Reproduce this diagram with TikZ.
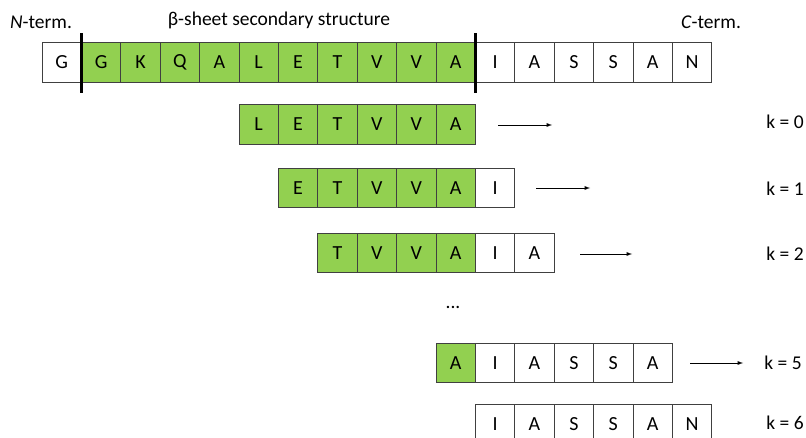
\documentclass[tikz,border=0pt]{standalone}
\usepackage{fontspec}
\setmainfont{Carlito}
\usepackage{tikz}
\definecolor{sheetgreen}{HTML}{92D050}
\definecolor{cellline}{HTML}{404040}

\begin{document}
\begin{tikzpicture}[x=1pt,y=-1pt]
  \tikzstyle{residue}=[rectangle,draw=cellline,line width=0.8pt,minimum width=39.4pt,minimum height=39.5pt,inner sep=0pt,font=\fontsize{20}{22}\selectfont]
  \tikzstyle{label}=[inner sep=0pt,font=\fontsize{19.5}{22}\selectfont]
  \tikzstyle{divider}=[line width=3pt,black]
  \tikzstyle{slide}=[-latex,line width=0.9pt,black]
  \useasboundingbox (0,0) rectangle (806,438);

  % full sequence
  \foreach \aa/\fc [count=\i from 0] in {G/white,G/sheetgreen,K/sheetgreen,Q/sheetgreen,A/sheetgreen,L/sheetgreen,E/sheetgreen,T/sheetgreen,V/sheetgreen,V/sheetgreen,A/sheetgreen,I/white,A/white,S/white,S/white,A/white,N/white}
    \node[residue,fill=\fc] (t\i) at ({42+39.4*(\i+0.5)},62.5) {\aa};

  \draw[divider] ([yshift=9pt]t0.north east) -- ([yshift=-10pt]t0.south east);
  \draw[divider] ([yshift=9pt]t10.north east) -- ([yshift=-10pt]t10.south east);

  \node[label] (nterm) at (41,22) {\textit{N}-term.};
  \node[label] (sheet) at (279,20) {β-sheet secondary structure};
  \node[label] (cterm) at (711,22) {\textit{C}-term.};

  % window k = 0
  \foreach \aa/\fc [count=\j from 0] in {L/sheetgreen,E/sheetgreen,T/sheetgreen,V/sheetgreen,V/sheetgreen,A/sheetgreen}
    \node[residue,fill=\fc] (w0\j) at ({42+39.4*(\j+5.5)},124.5) {\aa};
  \coordinate (s0) at (498,125);
  \coordinate (e0) at (552,125);
  \draw[slide] (s0) -- (e0);
  \node[label] (k0) at (785,122) {k = 0};

  % window k = 1
  \foreach \aa/\fc [count=\j from 0] in {E/sheetgreen,T/sheetgreen,V/sheetgreen,V/sheetgreen,A/sheetgreen,I/white}
    \node[residue,fill=\fc] (w1\j) at ({42+39.4*(\j+6.5)},188) {\aa};
  \coordinate (s1) at (536,188);
  \coordinate (e1) at (590,188);
  \draw[slide] (s1) -- (e1);
  \node[label] (k1) at (785,189) {k = 1};

  % window k = 2
  \foreach \aa/\fc [count=\j from 0] in {T/sheetgreen,V/sheetgreen,V/sheetgreen,A/sheetgreen,I/white,A/white}
    \node[residue,fill=\fc] (w2\j) at ({42+39.4*(\j+7.5)},253) {\aa};
  \coordinate (s2) at (580,254);
  \coordinate (e2) at (632,254);
  \draw[slide] (s2) -- (e2);
  \node[label] (k2) at (785,254) {k = 2};

  \node[label] (dots) at (453,307) {...};

  % window k = 5
  \foreach \aa/\fc [count=\j from 0] in {A/sheetgreen,I/white,A/white,S/white,S/white,A/white}
    \node[residue,fill=\fc] (w5\j) at ({42+39.4*(\j+10.5)},363) {\aa};
  \coordinate (s5) at (690,363);
  \coordinate (e5) at (743,363);
  \draw[slide] (s5) -- (e5);
  \node[label] (k5) at (783,363) {k = 5};

  % window k = 6
  \foreach \aa/\fc [count=\j from 0] in {I/white,A/white,S/white,S/white,A/white,N/white}
    \node[residue,fill=\fc] (w6\j) at ({42+39.4*(\j+11.5)},424) {\aa};
  \node[label] (k6) at (785,423) {k = 6};
\end{tikzpicture}
\end{document}
